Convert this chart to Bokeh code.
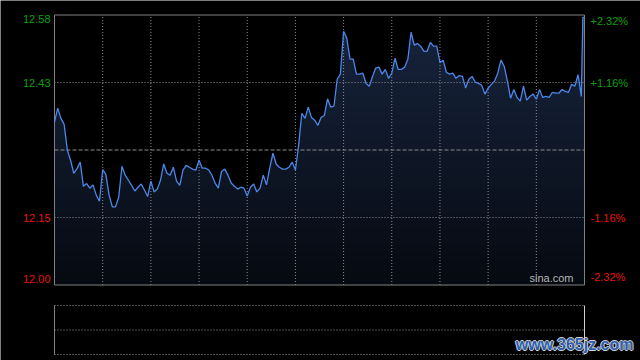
import numpy as np
from bokeh.plotting import figure
from bokeh.models import Range1d
from bokeh.core.properties import value
from bokeh.embed import file_html
from bokeh.resources import INLINE

# ---- data (HK session: 330 trading minutes, 09:30-12:00 + 13:00-16:00) ----
minutes = list(range(0, 328, 2)) + [328, 329, 330]
prices = [
    12.350, 12.380, 12.358, 12.345, 12.290, 12.268, 12.240, 12.250, 12.264, 12.212,
    12.218, 12.208, 12.215, 12.193, 12.180, 12.248, 12.237, 12.193, 12.168, 12.168,
    12.189, 12.255, 12.236, 12.225, 12.214, 12.202, 12.210, 12.217, 12.204, 12.190,
    12.223, 12.200, 12.206, 12.225, 12.260, 12.240, 12.236, 12.253, 12.223, 12.214,
    12.247, 12.257, 12.253, 12.249, 12.247, 12.268, 12.251, 12.251, 12.247, 12.236,
    12.219, 12.208, 12.244, 12.249, 12.236, 12.219, 12.212, 12.206, 12.210, 12.208,
    12.191, 12.210, 12.217, 12.200, 12.208, 12.236, 12.215, 12.251, 12.283, 12.260,
    12.253, 12.249, 12.249, 12.253, 12.264, 12.247, 12.300, 12.369, 12.358, 12.382,
    12.360, 12.354, 12.343, 12.360, 12.364, 12.400, 12.382, 12.384, 12.442, 12.453,
    12.545, 12.530, 12.485, 12.485, 12.453, 12.453, 12.455, 12.433, 12.427, 12.448,
    12.466, 12.468, 12.453, 12.463, 12.444, 12.455, 12.487, 12.463, 12.463, 12.468,
    12.485, 12.543, 12.515, 12.519, 12.513, 12.502, 12.502, 12.521, 12.513, 12.513,
    12.478, 12.483, 12.457, 12.453, 12.455, 12.444, 12.450, 12.448, 12.423, 12.442,
    12.448, 12.436, 12.433, 12.429, 12.410, 12.423, 12.431, 12.438, 12.455, 12.483,
    12.470, 12.438, 12.401, 12.420, 12.403, 12.395, 12.427, 12.397, 12.405, 12.410,
    12.399, 12.420, 12.403, 12.405, 12.403, 12.414, 12.412, 12.412, 12.420, 12.416,
    12.414, 12.431, 12.427, 12.452, 12.405, 12.575, 12.575,
]
prev_close = 12.29
price_ticks = [12.00, 12.145, 12.29, 12.435, 12.58]
left_labels = ["12.00", "12.15", "", "12.43", "12.58"]
right_labels = ["-2.32%", "-1.16%", "", "+1.16%", "+2.32%"]
time_grid = [30, 60, 90, 120, 150, 180, 210, 240, 270, 300]
session_minutes = 330

# ---- layout constants (pixels) ----
W, H = 640, 360
PX_L, PX_R = 54, 584          # main panel left/right
PY_T, PY_B = 14.5, 284.5      # main panel top/bottom
VY_T, VY_B = 305, 354         # volume panel top/bottom

GREEN = "#0ca00c"
RED = "#e8140c"
GRID = "#8c8c8c"
FONT = "Liberation Sans"

y_lo, y_hi = price_ticks[0], price_ticks[-1]
xs = session_minutes / (PX_R - PX_L)
ys = (y_hi - y_lo) / (PY_B - PY_T)
vs = 1.0 / (VY_B - VY_T)

p = figure(width=W, height=H,
           x_range=Range1d(-PX_L * xs, session_minutes + (W - PX_R) * xs),
           y_range=Range1d(y_lo - (H - PY_B) * ys, y_hi + PY_T * ys),
           output_backend="svg", toolbar_location=None,
           x_axis_location=None, y_axis_location=None, min_border=0,
           background_fill_color="black", border_fill_color="black")
p.outline_line_color = None
p.xgrid.visible = False
p.ygrid.visible = False
p.extra_y_ranges = {"vol": Range1d(-(H - VY_B) * vs, 1 + VY_T * vs)}

# area fill (navy) with a vertical darkening overlay
p.varea(x=minutes, y1=[y_lo] * len(minutes), y2=prices, fill_color="#18253f", fill_alpha=1.0)
n = 270
alpha = np.linspace(0.74, 0.0, n)  # bottom row first
img = np.zeros((n, 1), dtype=np.uint32)
view = img.view(dtype=np.uint8).reshape((n, 1, 4))
view[:, 0, 3] = (alpha * 255).astype(np.uint8)
p.image_rgba(image=[img], x=0, y=y_lo, dw=session_minutes, dh=y_hi - y_lo)

# grid
p.segment(x0=time_grid, y0=[y_lo] * len(time_grid), x1=time_grid, y1=[y_hi] * len(time_grid),
          line_color=GRID, line_dash="1 2", line_width=1)
inner = [price_ticks[1], price_ticks[3]]
p.segment(x0=[0] * 2, y0=inner, x1=[session_minutes] * 2, y1=inner,
          line_color=GRID, line_dash="1 2", line_width=1)

p.segment(x0=[0], y0=[prev_close], x1=[session_minutes], y1=[prev_close],
          line_color=GRID, line_dash="4 2", line_width=1)

p.quad(left=[0], right=[session_minutes], bottom=[y_lo], top=[y_hi],
       fill_color=None, line_color="#808080", line_width=1)

p.line(minutes, prices, line_color="#4b86e8", line_width=1.3)

for i, (t, ll, rl) in enumerate(zip(price_ticks, left_labels, right_labels)):
    if not ll:
        continue
    col = GREEN if t > prev_close else RED
    base = "bottom" if i == 0 else ("top" if i == len(price_ticks) - 1 else "middle")
    dy = -2 if i == 0 else 0
    p.text(x=[0], y=[t], text=[ll], x_offset=-4, y_offset=dy, text_align="right",
           text_baseline=base, text_color=col, text_font=value(FONT),
           text_font_size=value("11px"))
    p.text(x=[session_minutes], y=[t], text=[rl], x_offset=6, y_offset=dy, text_align="left",
           text_baseline=base, text_color=col, text_font=value(FONT),
           text_font_size=value("11px"))

p.text(x=[session_minutes], y=[y_lo], text=["sina.com"], x_offset=-11, y_offset=-1,
       text_align="right", text_baseline="bottom", text_color="#b4b4b4",
       text_font=value(FONT), text_font_size=value("11px"))

# ---- lower (volume) panel ----
p.segment(x0=[0], y0=[0], x1=[0], y1=[1], y_range_name="vol", line_color="#808080", line_width=1)
p.segment(x0=[session_minutes], y0=[0], x1=[session_minutes], y1=[1], y_range_name="vol",
          line_color="#d0d0d0", line_width=1)
vlev = [1.0, 0.5, 0.0]
p.segment(x0=[0] * 3, y0=vlev, x1=[session_minutes] * 3, y1=vlev, y_range_name="vol",
          line_color="#9a9a9a", line_dash="1 2", line_width=1)

wm = "www.365jz.com"
for dx, dy in [(-1, 0), (1, 0), (0, -1), (0, 1)]:
    p.text(x=[session_minutes], y=[0], text=[wm], x_offset=49 + dx, y_offset=-2 + dy,
           y_range_name="vol", text_align="right", text_baseline="bottom",
           text_color="#cfcfcf", text_font=value(FONT), text_font_style="bold",
           text_font_size=value("16px"))
p.text(x=[session_minutes], y=[0], text=[wm], x_offset=49, y_offset=-2, y_range_name="vol",
       text_align="right", text_baseline="bottom", text_color="#2d5fae",
       text_font=value(FONT), text_font_style="bold", text_font_size=value("16px"))

open("out.html", "w").write(file_html(p, INLINE))
